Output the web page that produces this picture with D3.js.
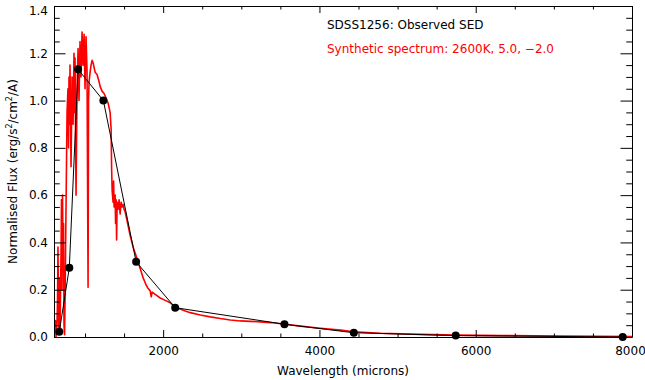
<!DOCTYPE html>
<html>
<head>
<meta charset="utf-8">
<script src="https://cdn.jsdelivr.net/npm/d3@7"></script>
<style>
  body { margin: 0; background: #fff; }
  svg { display: block; font-family: "DejaVu Sans", sans-serif; }
</style>
</head>
<body>
<div id="chart"></div>
<script>
// observed photometry (SED)
const sedWave = [671, 799, 911, 1235, 1654, 2154, 3552, 4440, 5744, 7881];
const sedFlux = [0.022, 0.293, 1.132, 1.0, 0.318, 0.124, 0.054, 0.018, 0.006, 0.0];

// synthetic spectrum
const specWave = [603, 616, 622, 629, 641, 648, 654, 661, 667, 674, 680, 693, 699, 706, 712, 718, 725, 731, 738, 744,
  757, 770, 782, 789, 795, 802, 808, 821, 834, 847, 859, 866, 872, 885, 898, 911, 923, 936, 949, 962,
  975, 988, 1000, 1013, 1026, 1039, 1045, 1052, 1065, 1077, 1090, 1103, 1129, 1154, 1180, 1193, 1218, 1244, 1270, 1295,
  1321, 1334, 1340, 1347, 1359, 1366, 1372, 1385, 1391, 1398, 1404, 1411, 1423, 1436, 1449, 1462, 1475, 1488, 1500, 1513,
  1539, 1577, 1616, 1667, 1706, 1744, 1782, 1808, 1834, 1847, 1859, 1898, 1962, 2026, 2090, 2154, 2218, 2282, 2347, 2475,
  2603, 2731, 2859, 2988, 3116, 3244, 3372, 3539, 3757, 4013, 4270, 4436, 4782, 5295, 5731, 6321, 7090, 8000];
const specFlux = [0.05, 0.02, 0.07, 0.0, 0.05, 0.15, 0.38, 0.10, 0.02, 0.25, 0.03, 0.35, 0.58, 0.20, 0.60, 0.35, 0.48, 0.05, 0.01, 0.15,
  0.55, 0.95, 1.05, 0.80, 1.10, 0.90, 1.15, 0.72, 1.10, 0.90, 1.20, 0.95, 1.18, 0.60, 1.05, 1.22, 1.00, 1.25, 1.10, 1.29,
  1.15, 1.28, 1.05, 1.27, 1.12, 0.21, 1.00, 1.08, 1.12, 1.15, 1.17, 1.16, 1.12, 1.11, 1.08, 1.06, 1.04, 1.03, 1.01, 0.99,
  0.95, 0.88, 0.72, 0.62, 0.57, 0.66, 0.55, 0.60, 0.48, 0.58, 0.41, 0.57, 0.54, 0.58, 0.52, 0.57, 0.55, 0.56, 0.54, 0.53,
  0.49, 0.43, 0.38, 0.33, 0.29, 0.25, 0.22, 0.205, 0.195, 0.17, 0.19, 0.18, 0.165, 0.155, 0.145, 0.125, 0.118, 0.11, 0.103, 0.093,
  0.085, 0.078, 0.072, 0.068, 0.066, 0.064, 0.061, 0.055, 0.046, 0.037, 0.029, 0.022, 0.016, 0.011, 0.008, 0.006, 0.004, 0.002];

const xMajor = [2000, 4000, 6000, 8000];
const xMinor = [1000, 1500, 2500, 3000, 3500, 4500, 5000, 5500, 6500, 7000, 7500];
const yMajor = [0.0, 0.2, 0.4, 0.6, 0.8, 1.0, 1.2, 1.4];
const yMinor = d3.range(0, 29).map(i => +(i * 0.05).toFixed(2)).filter(v => !yMajor.some(m => Math.abs(m - v) < 1e-6));

const legendLabels = ["SDSS1256: Observed SED", "Synthetic spectrum: 2600K, 5.0, \u22122.0"];

const width = 645, height = 380;
const margin = {top: 6, right: 13, bottom: 43, left: 54};
const iw = width - margin.left - margin.right;
const ih = height - margin.top - margin.bottom;

const svg = d3.select("#chart").append("svg")
    .attr("width", width)
    .attr("height", height);

const g = svg.append("g").attr("transform", `translate(${margin.left},${margin.top})`);

const x = d3.scaleLinear().domain([603, 8000]).range([0, iw]);
const y = d3.scaleLinear().domain([0, 1.4]).range([ih, 0]);

g.append("clipPath").attr("id", "clip")
  .append("rect").attr("width", iw).attr("height", ih);

// spectrum
const spec = specWave.map((w, i) => [w, specFlux[i]]);
g.append("path")
    .datum(spec)
    .attr("clip-path", "url(#clip)")
    .attr("fill", "none")
    .attr("stroke", "#ff0000")
    .attr("stroke-width", 1.6)
    .attr("stroke-linejoin", "round")
    .attr("d", d3.line().x(d => x(d[0])).y(d => y(d[1])));

// observed SED
const sed = sedWave.map((w, i) => [w, sedFlux[i]]);
g.append("path")
    .datum(sed)
    .attr("fill", "none")
    .attr("stroke", "#000")
    .attr("stroke-width", 1)
    .attr("d", d3.line().x(d => x(d[0])).y(d => y(d[1])));

g.selectAll(".dot")
    .data(sed)
    .enter()
    .append("circle")
    .attr("cx", d => x(d[0]))
    .attr("cy", d => y(d[1]))
    .attr("r", 4)
    .attr("fill", "#000");

// axes, ticks pointing inward on all four sides
const xl = 7, yl = 11.5;
function styleAxis(sel) {
    sel.selectAll("path").attr("stroke", "#000");
    sel.selectAll("line").attr("stroke", "#000");
    sel.selectAll("text").attr("font-family", "DejaVu Sans").attr("font-size", 12).attr("fill", "#000");
}

g.append("g").attr("transform", `translate(0,${ih})`)
    .call(d3.axisBottom(x).tickValues(xMajor).tickFormat(d3.format("d")).tickSizeInner(-xl).tickSizeOuter(0).tickPadding(9))
    .call(styleAxis)
    .call(s => s.selectAll(".tick text").filter(d => d === 8000).attr("dx", -2));
g.append("g").attr("transform", `translate(0,${ih})`)
    .call(d3.axisBottom(x).tickValues(xMinor).tickFormat("").tickSizeInner(-xl / 2).tickSizeOuter(0))
    .call(s => s.select(".domain").remove()).call(styleAxis);
g.append("g")
    .call(d3.axisTop(x).tickValues(xMajor).tickFormat("").tickSizeInner(-xl).tickSizeOuter(0))
    .call(styleAxis);
g.append("g")
    .call(d3.axisTop(x).tickValues(xMinor).tickFormat("").tickSizeInner(-xl / 2).tickSizeOuter(0))
    .call(s => s.select(".domain").remove()).call(styleAxis);

g.append("g")
    .call(d3.axisLeft(y).tickValues(yMajor).tickFormat(d3.format(".1f")).tickSizeInner(-yl).tickSizeOuter(0).tickPadding(6))
    .call(styleAxis)
    .call(s => s.selectAll(".tick text").filter(d => d === 1.4).attr("dy", "0.7em"));
g.append("g")
    .call(d3.axisLeft(y).tickValues(yMinor).tickFormat("").tickSizeInner(-yl / 2).tickSizeOuter(0))
    .call(s => s.select(".domain").remove()).call(styleAxis);
g.append("g").attr("transform", `translate(${iw},0)`)
    .call(d3.axisRight(y).tickValues(yMajor).tickFormat("").tickSizeInner(-yl).tickSizeOuter(0))
    .call(styleAxis);
g.append("g").attr("transform", `translate(${iw},0)`)
    .call(d3.axisRight(y).tickValues(yMinor).tickFormat("").tickSizeInner(-yl / 2).tickSizeOuter(0))
    .call(s => s.select(".domain").remove()).call(styleAxis);

// axis titles
svg.append("text")
    .attr("x", margin.left + iw / 2)
    .attr("y", 375)
    .attr("text-anchor", "middle")
    .attr("font-size", 12)
    .text("Wavelength (microns)");

const yt = svg.append("text")
    .attr("transform", `translate(17,${margin.top + ih / 2}) rotate(-90)`)
    .attr("text-anchor", "middle")
    .attr("font-size", 12);
yt.append("tspan").text("Normalised Flux (erg/s");
yt.append("tspan").attr("font-size", 8).attr("dy", -5).text("2");
yt.append("tspan").attr("dy", 5).text("/cm");
yt.append("tspan").attr("font-size", 8).attr("dy", -5).text("2");
yt.append("tspan").attr("dy", 5).text("/A)");

// legend
svg.selectAll(".legend")
    .data(legendLabels)
    .enter()
    .append("text")
    .attr("x", 327)
    .attr("y", (d, i) => 29 + i * 24)
    .attr("font-size", 12)
    .attr("fill", (d, i) => i === 0 ? "#000" : "#ff0000")
    .text(d => d);
</script>
</body>
</html>
